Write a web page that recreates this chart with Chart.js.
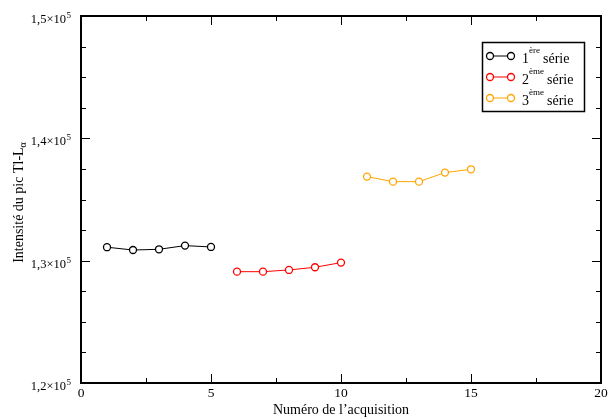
<!DOCTYPE html>
<html>
<head>
<meta charset="utf-8">
<script src="https://cdn.jsdelivr.net/npm/chart.js@4"></script>
<style>
  html, body { margin: 0; background: #fff; }
</style>
</head>
<body>
<canvas id="chart" width="611" height="419"></canvas>
<script>
// data
const serie1X = [1, 2, 3, 4, 5]
const serie1Y = [131100, 130870, 130930, 131230, 131120]
const serie2X = [6, 7, 8, 9, 10]
const serie2Y = [129100, 129100, 129240, 129460, 129840]
const serie3X = [11, 12, 13, 14, 15]
const serie3Y = [136870, 136460, 136460, 137200, 137470]

const xTicks = [0, 5, 10, 15, 20]
const yTicks = [120000, 130000, 140000, 150000]
const legendNames = [['1', 'ère'], ['2', 'ème'], ['3', 'ème']]
const colors = ['#000000', '#ff0000', '#ffa500']

const serif = 'Liberation Serif, Times New Roman, serif'

function toPoints(xs, ys) {
    return xs.map((x, i) => ({ x: x, y: ys[i] }))
}

function makeDataset(xs, ys, color, name) {
    return {
        label: name,
        data: toPoints(xs, ys),
        borderColor: color,
        backgroundColor: color,
        borderWidth: 1,
        pointRadius: 3.5,
        pointBorderWidth: 1.3,
        pointBorderColor: color,
        pointBackgroundColor: '#fff',
        tension: 0
    }
}

// frame, inward ticks, y labels with exponent, y title and boxed legend
const decorations = {
    id: 'decorations',
    afterDraw(chart) {
        const ctx = chart.ctx
        const a = chart.chartArea
        const xs = chart.scales.x
        const ys = chart.scales.y
        ctx.save()
        ctx.strokeStyle = '#000'

        // ticks
        ctx.lineWidth = 1
        for (let v = 0; v <= 20; v += 2.5) {
            const px = Math.round(xs.getPixelForValue(v)) + 0.5
            const len = v % 5 === 0 ? 9 : 5
            ctx.beginPath()
            ctx.moveTo(px, a.bottom); ctx.lineTo(px, a.bottom - len)
            ctx.moveTo(px, a.top); ctx.lineTo(px, a.top + len)
            ctx.stroke()
        }
        for (let v = 120000; v <= 150000; v += 2500) {
            const py = Math.round(ys.getPixelForValue(v)) + 0.5
            const len = v % 10000 === 0 ? 9 : 5
            ctx.beginPath()
            ctx.moveTo(a.left, py); ctx.lineTo(a.left + len, py)
            ctx.moveTo(a.right, py); ctx.lineTo(a.right - len, py)
            ctx.stroke()
        }

        // frame
        ctx.lineWidth = 2
        ctx.strokeRect(a.left, a.top, a.right - a.left, a.bottom - a.top)

        // y tick labels, "1,5×10" with raised 5
        ctx.fillStyle = '#000'
        ctx.textBaseline = 'alphabetic'
        ys.ticks.forEach(t => {
            const py = ys.getPixelForValue(t.value)
            const base = (t.value / 100000).toFixed(1).replace('.', ',') + '×10'
            ctx.font = '9px ' + serif
            const wExp = ctx.measureText('5').width
            const right = a.left - 10
            ctx.textAlign = 'right'
            ctx.fillText('5', right, py + 2)
            ctx.font = '12.5px ' + serif
            ctx.fillText(base, right - wExp - 0.5, py + 7)
        })
        ctx.textAlign = 'left'

        // y title with subscript alpha
        ctx.save()
        ctx.translate(22.5, (a.top + a.bottom) / 2 + 3)
        ctx.rotate(-Math.PI / 2)
        ctx.font = '14px ' + serif
        const main = 'Intensité du pic Tl-L'
        const wMain = ctx.measureText(main).width
        ctx.font = '10px ' + serif
        const wSub = ctx.measureText('α').width
        const start = -(wMain + wSub) / 2
        ctx.font = '14px ' + serif
        ctx.fillText(main, start, 0)
        ctx.font = '10px ' + serif
        ctx.fillText('α', start + wMain, 3)
        ctx.restore()

        // legend
        ctx.strokeStyle = '#000'
        ctx.lineWidth = 1.5
        ctx.strokeRect(482.5, 42.5, 102, 69)
        legendNames.forEach((n, i) => {
            const y = 56 + i * 21
            ctx.strokeStyle = colors[i]
            ctx.lineWidth = 1
            ctx.beginPath()
            ctx.moveTo(490, y); ctx.lineTo(511, y)
            ctx.stroke()
            ctx.lineWidth = 1.3
            ;[490, 511].forEach(cx => {
                ctx.beginPath()
                ctx.arc(cx, y, 3.5, 0, Math.PI * 2)
                ctx.fillStyle = '#fff'
                ctx.fill()
                ctx.stroke()
            })
            ctx.fillStyle = '#000'
            ctx.font = '14px ' + serif
            let x = 522
            ctx.fillText(n[0], x, y + 7)
            x += ctx.measureText(n[0]).width
            ctx.font = '9px ' + serif
            ctx.fillText(n[1], x, y - 3)
            x += ctx.measureText(n[1]).width + 3
            ctx.font = '14px ' + serif
            ctx.fillText('série', x, y + 7)
        })
        ctx.restore()
    }
}

const data = {
    datasets: [
        makeDataset(serie1X, serie1Y, colors[0], '1ère série'),
        makeDataset(serie2X, serie2Y, colors[1], '2ème série'),
        makeDataset(serie3X, serie3Y, colors[2], '3ème série')
    ]
}

const options = {
    responsive: false,
    animation: false,
    layout: { padding: { top: 16, right: 10, left: 0, bottom: 0 } },
    plugins: {
        legend: { display: false },
        tooltip: { enabled: false }
    },
    scales: {
        x: {
            type: 'linear',
            min: 0,
            max: 20,
            afterBuildTicks: s => { s.ticks = xTicks.map(v => ({ value: v })) },
            afterFit: s => { s.height = 36 },
            grid: { display: false, drawTicks: false, tickLength: 0 },
            border: { display: false },
            ticks: {
                color: '#000',
                font: { family: serif, size: 13.5 },
                padding: 2,
                maxRotation: 0,
                autoSkip: false
            },
            title: {
                display: true,
                text: 'Numéro de l’acquisition',
                color: '#000',
                font: { family: serif, size: 14 },
                padding: { top: 0, bottom: 0 }
            }
        },
        y: {
            type: 'linear',
            min: 120000,
            max: 150000,
            afterBuildTicks: s => { s.ticks = yTicks.map(v => ({ value: v })) },
            afterFit: s => { s.width = 81 },
            grid: { display: false },
            border: { display: false },
            ticks: { display: false }
        }
    }
}

new Chart('chart', { type: 'line', data, options, plugins: [decorations] })
</script>
</body>
</html>
